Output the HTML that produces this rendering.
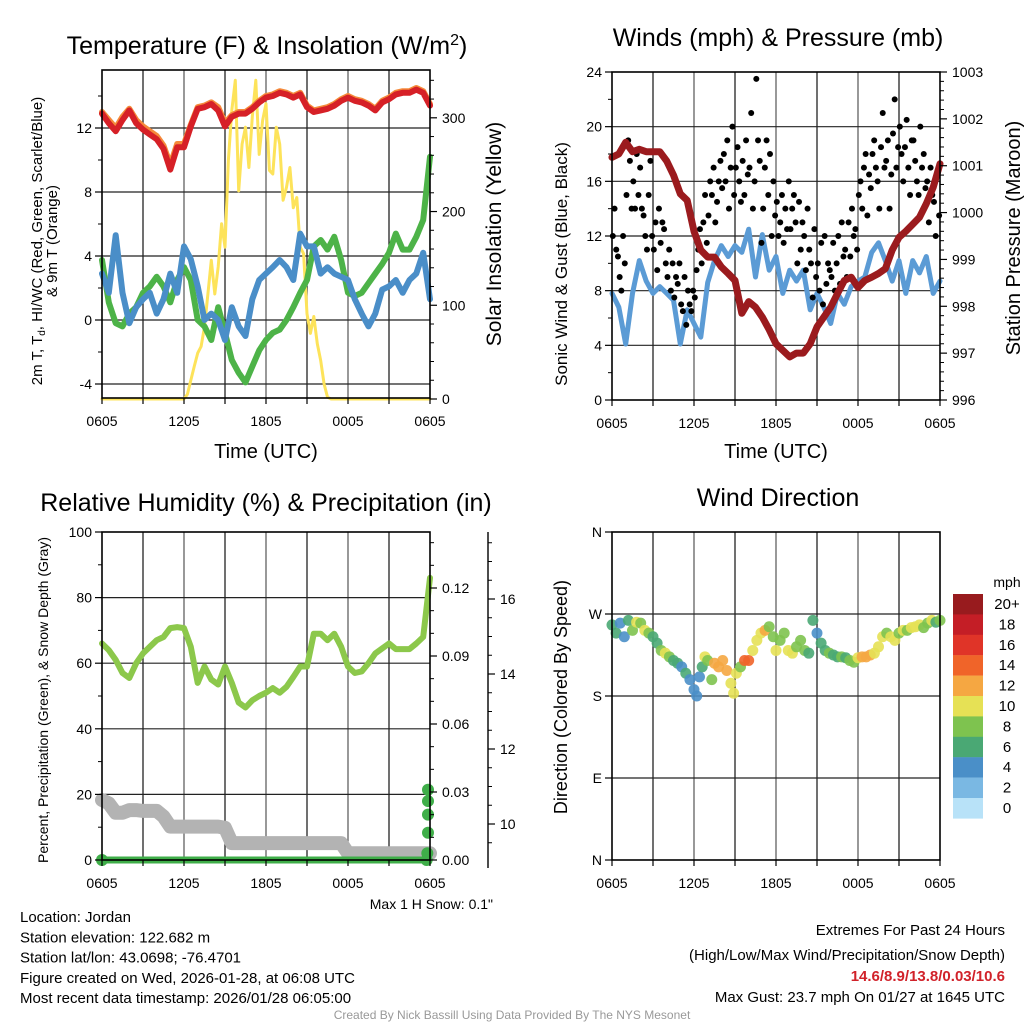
<!DOCTYPE html>
<html><head><meta charset="utf-8"><style>
html,body{margin:0;padding:0;background:#fff;}
svg{display:block;font-family:"Liberation Sans",sans-serif;}
</style></head><body>
<svg id="c" width="1024" height="1024" viewBox="0 0 1024 1024" xmlns="http://www.w3.org/2000/svg"></svg>
<script>
// ---------- DATA ----------
const xTickLabels = ["0605","1205","1805","0005","0605"];
const halfHours = [0,0.5,1,1.5,2,2.5,3,3.5,4,4.5,5,5.5,6,6.5,7,7.5,8,8.5,9,9.5,10,10.5,11,11.5,12,12.5,13,13.5,14,14.5,15,15.5,16,16.5,17,17.5,18,18.5,19,19.5,20,20.5,21,21.5,22,22.5,23,23.5,24];
const tempRed = [12.9,12.3,11.8,12.5,13.1,12.3,11.9,11.6,11.3,10.7,9.4,10.8,10.8,12.1,13.2,13.3,13.5,13.1,12.1,12.7,12.9,12.9,13.2,13.6,13.9,14.0,14.2,14.1,13.9,14.1,13.3,13.0,13.1,13.2,13.4,13.7,13.9,13.7,13.6,13.4,13.1,13.6,13.8,14.1,14.2,14.2,14.4,14.2,13.4];
const temp9m = [13.0,12.5,12.0,12.7,13.2,12.5,12.1,11.8,11.5,10.9,9.7,11.0,11.0,12.2,13.3,13.4,13.6,13.3,12.3,12.8,13.0,13.0,13.3,13.7,14.0,14.1,14.3,14.2,14.0,14.2,13.4,13.1,13.2,13.3,13.5,13.8,14.0,13.8,13.7,13.5,13.2,13.7,13.9,14.2,14.3,14.3,14.5,14.3,13.5];
const dewGreen = [3.75,1.1,-0.2,-0.4,0.4,0.8,1.7,2.1,2.7,2.1,1.1,2.5,3.3,2.5,0.0,-0.4,-1.25,0.8,-0.8,-2.5,-3.3,-3.9,-2.9,-1.9,-1.25,-0.8,-0.6,0.0,0.8,1.7,2.5,4.6,5.0,4.4,5.2,3.75,1.7,1.5,1.7,2.3,2.9,3.5,4.2,5.4,4.4,4.4,5.2,6.25,10.2];
const wcBlue = [2.9,1.7,5.3,1.7,-0.2,0.8,1.3,1.7,0.4,1.3,2.9,1.7,4.6,3.8,2.1,0.0,0.4,0.0,-1.25,0.8,-0.4,-1.0,1.3,2.5,2.9,3.3,3.75,3.3,2.5,5.4,4.6,4.6,2.9,3.3,2.9,2.7,2.5,1.3,0.4,-0.4,0.4,1.9,2.1,2.5,1.7,2.5,2.9,4.2,1.3];
const solarTimes = [0,6,6.25,6.5,6.75,7,7.25,7.5,7.75,8,8.25,8.5,8.75,9,9.25,9.5,9.75,10,10.25,10.5,10.75,11,11.25,11.5,11.75,12,12.25,12.5,12.75,13,13.25,13.5,13.75,14,14.25,14.5,14.75,15,15.25,15.5,15.75,16,16.25,16.5,16.75,24];
const solarVals = [0,0,5,20,35,49,56,77,112,148,112,141,187,162,255,308,340,222,272,290,247,301,340,261,297,315,244,240,290,272,212,226,247,204,215,162,155,91,70,88,59,41,16,2,0,0];
const windBlue = [7.8,6.8,4.1,7.8,10.2,8.7,7.8,8.3,7.8,7.3,4.1,6.6,5.6,4.6,8.6,10.2,11.3,10.5,11.3,10.8,12.5,9.0,12.1,9.5,10.5,7.8,9.5,8.7,9.5,6.6,7.8,6.8,5.6,7.8,7.0,8.3,8.7,9.0,10.8,11.5,10.2,8.7,10.2,7.8,10.2,9.3,10.5,7.8,8.7];
const pressure = [1001.18,1001.25,1001.5,1001.3,1001.35,1001.3,1001.3,1001.3,1001.1,1000.8,1000.4,1000.26,999.6,999.2,999.05,999.05,998.84,998.7,998.55,997.85,998.1,997.98,997.77,997.5,997.2,997.06,996.92,997.0,997.0,997.2,997.56,997.77,997.98,998.27,998.55,998.62,998.4,998.55,998.62,998.7,998.8,999.2,999.47,999.6,999.75,999.9,1000.19,1000.54,1001.04];
const gusts = [12,14,11,10.5,9,8,12,10, 15,19,17.5,14,16,14,18,15, 17,14,13.5,12,11,15,17.5,12, 11,13,9.5,14,11.5,13,12.5,10, 9,11,8,10,7.5,9,8.5,10, 7,6.5,9,5.5,8,7,6.5,8, 7.5,9.5,11,12.5,10,13,15,11.5, 13.5,16,15,17,13,14.5,16,17.5, 15.5,18,16,19,14,17,20,15, 17,18.5,16,14.5,17.5,15,19,16.5, 17,21,14,16,23.5,19,17.5,11.5, 14,17,19,15,18,12,16,13.5, 14.5,12,13,15,11.5,14,12.5,16, 12.5,14,15,13,10,14.5,11,13, 12,9.5,14,11,10,7.5,12.5,9, 10,8,11.5,7,12,8.5,10,9.5, 9,11.5,8,10,12,8.5,13,10.5, 11,9,13,10.5,14,12,12.5,11, 15,16,14,17,18,13.5,16.5,15.5, 18,19,17,16,14,18.5,21,17, 17.5,19,14,16.5,19.5,22,17,18.5, 20,18,16,18.5,20.5,17,15,19, 19,17.5,16,15,20,17,18,15.5, 16,13,17,15,14.5,12,16.5,13.5];
const rh = [66,64,61,57,55.5,60,63,65,67,68,70.7,71,70.7,65,54,59,55,53.5,59,54,48,46.5,48.7,50,51,52.4,51,52.8,55.8,59,59,69,69,67,69,65,59,57,57.5,60,63,64.5,66,64.3,64.3,64.3,66,68,86];
const snowDepth = [10.64,10.55,10.3,10.3,10.37,10.37,10.35,10.35,10.35,10.2,9.93,9.93,9.93,9.93,9.93,9.93,9.93,9.93,9.9,9.49,9.49,9.49,9.49,9.49,9.49,9.49,9.49,9.49,9.49,9.49,9.49,9.49,9.49,9.49,9.49,9.49,9.22,9.22,9.22,9.22,9.22,9.22,9.22,9.22,9.22,9.22,9.22,9.22,9.22];
const precipTimes = [0,2,4,6,8,10,12,14,16,18,20,22,23.9,23.95,24,24,24,24];
const precipVals = [0,0,0,0,0,0,0,0,0,0,0,0,0,0.003,0.012,0.02,0.026,0.031];
const dirTimes = [0,0.3,0.6,0.9,1.2,1.5,1.8,2.1,2.4,2.7,3.0,3.3,3.6,3.9,4.2,4.5,4.8,5.1,5.4,5.7,6.0,6.2,6.4,6.6,6.8,7.0,7.3,7.5,7.8,8.1,8.4,8.7,8.9,9.1,9.4,9.7,10.0,10.3,10.6,10.9,11.2,11.5,11.8,12.0,12.3,12.6,12.9,13.2,13.5,13.8,14.1,14.4,14.7,15.0,15.3,15.6,15.9,16.2,16.5,16.8,17.1,17.4,17.7,18.0,18.3,18.6,18.9,19.2,19.5,19.8,20.1,20.4,20.7,21.0,21.3,21.6,21.9,22.2,22.5,22.8,23.1,23.4,23.7,24.0];
const dirDeg = [258,249,260,245,263,252,261,260,252,249,245,238,230,227,223,219,216,212,205,198,187,180,201,212,223,219,198,216,212,219,208,194,183,205,212,219,219,230,241,249,252,256,245,230,241,249,230,227,234,241,230,227,263,249,238,230,227,225,223,223,222,219,217,222,223,223,225,227,234,245,249,245,241,249,252,252,255,256,258,255,260,263,261,263];
const dirSpeed = [6,6,4,4,6,8,10,8,10,8,6,6,8,10,8,6,6,4,6,4,4,4,4,6,10,8,8,12,12,12,12,10,10,10,8,14,14,10,10,10,12,8,8,10,8,8,10,10,8,8,8,6,6,4,6,6,8,6,6,8,6,8,8,10,12,12,12,10,10,10,8,10,10,8,10,8,10,10,10,8,8,10,6,8];
const speedLabels = ["20+","18","16","14","12","10","8","6","4","2","0"];
const speedColors = ["#981b1e","#c41e26","#e03428","#f06429","#f5a742","#e6e155","#7ec34f","#4aa874","#4a8fc8","#7ab8e3","#b8e2f8"];

// ---------- RENDER ----------
const svg = document.getElementById('c');
const NS = "http://www.w3.org/2000/svg";
function mk(tag, attrs, parent){ const e=document.createElementNS(NS,tag); for(const k in attrs) e.setAttribute(k,attrs[k]); (parent||svg).appendChild(e); return e; }
function txt(s, x, y, size, anchor, parent, extra){ const e=mk('text',Object.assign({x:x,y:y,'font-size':size,'text-anchor':anchor||'middle',fill:'#000'},extra||{}),parent); e.textContent=s; return e; }
const W=328, H=328;
function xAt(x0,t){ return x0 + t/24*W; }
function lin(d0,d1,p0,p1){ return v => p0 + (v-d0)/(d1-d0)*(p1-p0); }
function path(xs, ys, f, g, attrs){ let d=''; for(let i=0;i<xs.length;i++){ d+=(i?'L':'M')+f(xs[i]).toFixed(1)+','+g(ys[i]).toFixed(1);} return mk('path',Object.assign({d:d,fill:'none','stroke-linejoin':'round','stroke-linecap':'round'},attrs)); }

function frame(x0,y0,name){
  const g=mk('g',{});
  
  
  for(let h=3;h<24;h+=3){ mk('line',{x1:xAt(x0,h),x2:xAt(x0,h),y1:y0,y2:y0+H,stroke:(h%6==0?'#555':'#111'),'stroke-width':1.2},g); }
  return g;
}
function hgrid(x0,ys){ for(const y of ys) mk('line',{x1:x0,x2:x0+W,y1:y,y2:y,stroke:'#222','stroke-width':1.2}); }
function border(x0,y0){ mk('rect',{x:x0,y:y0,width:W,height:H,fill:'none',stroke:'#000','stroke-width':1.6}); }
function xAxis(x0,y0,name){
  const g=mk('g',{});
  
  
  for(let h=0;h<=24;h+=3){ mk('line',{x1:xAt(x0,h),x2:xAt(x0,h),y1:y0+H,y2:y0+H+6,stroke:'#000','stroke-width':1.2},g); }
  xTickLabels.forEach((l,i)=>{ const t=txt(l,xAt(x0,i*6),y0+H+28,14,'middle',g);   });
}
function yTicks(x, y0, y1, majors, labels, minors, side, fs, name){
  const g=mk('g',{});
  
  
  const dir = side==='left'?-1:1;
  for(const y of minors) mk('line',{x1:x,x2:x+dir*4,y1:y,y2:y,stroke:'#000','stroke-width':1},g);
  majors.forEach((y,i)=>{ mk('line',{x1:x,x2:x+dir*7,y1:y,y2:y,stroke:'#000','stroke-width':1.2},g);
    txt(labels[i], side==='left'?x-10:x+12, y+5, 14, side==='left'?'end':'start', g); });
}
function rot(s,x,y,size,name){ const e=txt(s,x,y,size,'middle',svg,{transform:`rotate(-90 ${x} ${y})`});   return e; }

// ===== Panel 1: Temperature =====
{
  const x0=102,y0=70;
  const fy=lin(-5,15.625,400,70), fs=lin(0,351,399,70), fx=t=>xAt(x0,t);
  frame(x0,y0,'temperature');
  hgrid(x0,[-4,0,4,8,12].map(fy));
  let p=path(solarTimes,solarVals,fx,fs,{stroke:'#fde35a','stroke-width':3});  
  p=path(halfHours,dewGreen,fx,fy,{stroke:'#4db348','stroke-width':6});  
  p=path(halfHours,wcBlue,fx,fy,{stroke:'#4a8ec8','stroke-width':6});  
  p=path(halfHours,temp9m,fx,fy,{stroke:'#f58a3a','stroke-width':6});  
  p=path(halfHours,tempRed,fx,fy,{stroke:'#d62027','stroke-width':6});  
  border(x0,y0);
  const maj=[-4,0,4,8,12], mn=[-2,2,6,10,14];
  yTicks(x0,0,0,maj.map(fy),maj.map(String),mn.map(fy),'left',13,'temperature-y-axis');
  const sm=[0,100,200,300], smn=[20,40,60,80,120,140,160,180,220,240,260,280,320,340];
  yTicks(x0+W,0,0,sm.map(fs),sm.map(String),smn.map(fs),'right',13,'solar-y-axis');
  xAxis(x0,y0,'temperature');
  const t=mk('text',{x:267,y:54,'font-size':25,'text-anchor':'middle'}); t.innerHTML='Temperature (F) &amp; Insolation (W/m<tspan dy="-9" font-size="16">2</tspan><tspan dy="9">)</tspan>';
   
  const l=mk('text',{x:42,y:241,'font-size':15,'text-anchor':'middle',transform:'rotate(-90 42 241)'});
  l.innerHTML='2m T, T<tspan dy="3" font-size="10">d</tspan><tspan dy="-3">, HI/WC (Red, Green, Scarlet/Blue)</tspan>';
   
  rot('& 9m T (Orange)',57,241,15,'temperature-y-title-2');
  rot('Solar Insolation (Yellow)',501,234,21,'solar-y-title');
  const xl=txt('Time (UTC)',266,458,20);  
}

// ===== Panel 2: Winds =====
{
  const x0=612,y0=72;
  const fy=lin(0,24,400,72), fp=lin(996,1003,400,72), fx=t=>xAt(x0,t);
  frame(x0,y0,'winds');
  hgrid(x0,[4,8,12,16,20].map(fy));
  let p=path(halfHours,windBlue,fx,fy,{stroke:'#5b9bd5','stroke-width':5});  
  const gg=mk('g',{});  
  gusts.forEach((v,i)=>{ const c=mk('circle',{cx:fx(i/8+0.06),cy:fy(v),r:3,fill:'#000'},gg);
    
     });
  p=path(halfHours,pressure,fx,fp,{stroke:'#9b1b1e','stroke-width':7});  
  border(x0,y0);
  const maj=[0,4,8,12,16,20,24], mn=[2,6,10,14,18,22];
  yTicks(x0,0,0,maj.map(fy),maj.map(String),mn.map(fy),'left',13,'wind-y-axis');
  const pm=[996,997,998,999,1000,1001,1002,1003]; const pmn=[];
  for(const b of [996,997,998,999,1000,1001,1002]) for(const f of [0.2,0.4,0.6,0.8]) pmn.push(b+f);
  yTicks(x0+W,0,0,pm.map(fp),pm.map(String),pmn.map(fp),'right',13,'pressure-y-axis');
  xAxis(x0,y0,'winds');
  const t=txt('Winds (mph) & Pressure (mb)',778,46,25);  
  rot('Sonic Wind & Gust (Blue, Black)',567,264,17,'wind-y-title');
  rot('Station Pressure (Maroon)',1020,238,20,'pressure-y-title');
  const xl=txt('Time (UTC)',776,458,20);  
}

// ===== Panel 3: RH =====
{
  const x0=102,y0=532;
  const fy=lin(0,100,860,532), fpr=lin(0,0.03,860,792), fsn=lin(10,16,824,599), fx=t=>xAt(x0,t);
  frame(x0,y0,'humidity');
  hgrid(x0,[20,40,60,80].map(fy));
  let p=path(halfHours,snowDepth,fx,fsn,{stroke:'#b3b3b3','stroke-width':14});  
  p=path(halfHours,rh,fx,fy,{stroke:'#8cc84b','stroke-width':6});  
  p=path(precipTimes.slice(0,13),precipVals.slice(0,13),fx,fpr,{stroke:'#3fae49','stroke-width':7});  
  precipTimes.forEach((tm,i)=>{ if(i<12) return; const c=mk('circle',{cx:fx(tm)-2,cy:fpr(precipVals[i]),r:6,fill:'#3fae49'});
    
     });
  mk('circle',{cx:fx(0),cy:860,r:6,fill:'#3fae49'});
  border(x0,y0);
  const maj=[0,20,40,60,80,100], mn=[10,30,50,70,90];
  yTicks(x0,0,0,maj.map(fy),maj.map(String),mn.map(fy),'left',13,'rh-y-axis');
  const pm=[0,0.03,0.06,0.09,0.12], pmn=[0.01,0.02,0.04,0.05,0.07,0.08,0.10,0.11,0.13,0.14];
  yTicks(x0+W,0,0,pm.map(fpr),pm.map(v=>v.toFixed(2)),pmn.map(fpr),'right',13,'precip-y-axis');
  mk('line',{x1:488,x2:488,y1:532,y2:868,stroke:'#000','stroke-width':1.4});
  const sm=[10,12,14,16], smn=[9.5,10.5,11,11.5,12.5,13,13.5,14.5,15,15.5,16.5,17,17.5];
  yTicks(488,0,0,sm.map(fsn),sm.map(String),smn.map(fsn),'right',13,'snow-y-axis');
  xAxis(x0,y0,'humidity');
  const t=txt('Relative Humidity (%) & Precipitation (in)',266,511,25);  
  rot('Percent, Precipitation (Green), & Snow Depth (Gray)',48,700,14,'humidity-y-title');
  const m=txt('Max 1 H Snow: 0.1"',493,909,14,'end');  
}

// ===== Panel 4: Wind Direction =====
{
  const x0=612,y0=532;
  const fy=lin(0,360,860,532), fx=t=>xAt(x0,t);
  frame(x0,y0,'direction');
  hgrid(x0,[90,180,270].map(fy));
  function col(s){ const idx=Math.min(10,Math.floor(s/2)); return speedColors[10-idx]; }
  dirTimes.forEach((tm,i)=>{ const c=mk('circle',{cx:fx(tm),cy:fy(dirDeg[i]),r:5.5,fill:col(dirSpeed[i]),opacity:0.9});
    
     });
  border(x0,y0);
  yTicks(x0,0,0,[0,90,180,270,360].map(fy),['N','E','S','W','N'],[],'left',13,'direction-y-axis');
  xAxis(x0,y0,'direction');
  const t=txt('Wind Direction',778,506,25);  
  rot('Direction (Colored By Speed)',567,697,18,'direction-y-title');
  const lg=mk('g',{});  
  txt('mph',1007,587,14,'middle',lg);
  speedColors.forEach((c,i)=>{ mk('rect',{x:953,y:594+i*20.4,width:30,height:20.6,fill:c},lg);
    txt(speedLabels[i],1007,609+i*20.4,15,'middle',lg); });
}

// ===== Footer =====
const left=["Location: Jordan","Station elevation: 122.682 m","Station lat/lon: 43.0698; -76.4701","Figure created on Wed, 2026-01-28, at 06:08 UTC","Most recent data timestamp: 2026/01/28 06:05:00"];
left.forEach((s,i)=>{ const e=txt(s,20,922+i*20.3,15,'start');   });
let e=txt('Extremes For Past 24 Hours',1005,935,15,'end');  
e=txt('(High/Low/Max Wind/Precipitation/Snow Depth)',1005,960,15,'end');  
e=txt('14.6/8.9/13.8/0.03/10.6',1005,981,15,'end',svg,{fill:'#d1222a','font-weight':'bold'});  
e=txt('Max Gust: 23.7 mph On 01/27 at 1645 UTC',1005,1002,15,'end');  
e=txt('Created By Nick Bassill Using Data Provided By The NYS Mesonet',512,1019,12,'middle',svg,{fill:'#999'});  
</script>
</body></html>
